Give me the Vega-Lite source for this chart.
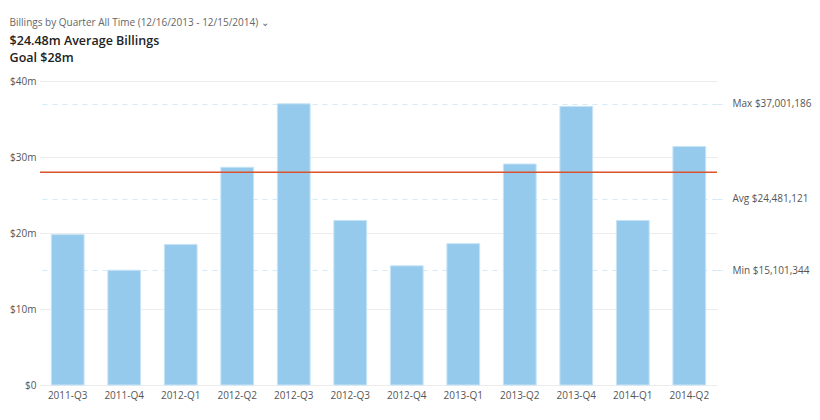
{
  "$schema": "https://vega.github.io/schema/vega-lite/v6.json",
  "width": 820,
  "height": 420,
  "autosize": {"type": "fit", "contains": "padding"},
  "padding": {"left": 9, "right": 8, "top": 17, "bottom": 20},
  "background": "white",
  "config": {"font": "Open Sans", "view": {"stroke": null}},
  "title": {
    "text": "Billings by Quarter   All Time (12/16/2013 - 12/15/2014) ⌄",
    "subtitle": ["$24.48m Average Billings", "Goal $28m"],
    "anchor": "start",
    "frame": "bounds",
    "fontSize": 10,
    "fontWeight": "normal",
    "color": "#666666",
    "subtitleFontSize": 12.5,
    "subtitleFontWeight": 600,
    "subtitleColor": "#222222",
    "subtitlePadding": 7,
    "subtitleLineHeight": 17,
    "offset": 12
  },
  "data": {
    "values": [
      {"slot": "01 2011-Q3", "billings": 19790000},
      {"slot": "02 2011-Q4", "billings": 15101344},
      {"slot": "03 2012-Q1", "billings": 18500000},
      {"slot": "04 2012-Q2", "billings": 28650000},
      {"slot": "05 2012-Q3", "billings": 37001186},
      {"slot": "06 2012-Q3", "billings": 21650000},
      {"slot": "07 2012-Q4", "billings": 15680000},
      {"slot": "08 2013-Q1", "billings": 18600000},
      {"slot": "09 2013-Q2", "billings": 29080000},
      {"slot": "10 2013-Q4", "billings": 36660000},
      {"slot": "11 2014-Q1", "billings": 21650000},
      {"slot": "12 2014-Q2", "billings": 31380000}
    ]
  },
  "layer": [
    {
      "mark": {"type": "bar", "color": "#95caec", "stroke": "#c6e4f7", "strokeWidth": 1},
      "encoding": {
        "x": {
          "field": "slot",
          "type": "ordinal",
          "sort": null,
          "scale": {"paddingInner": 0.42, "paddingOuter": 0.2},
          "axis": {
            "title": null,
            "labelAngle": 0,
            "labelExpr": "substring(datum.label, 3)",
            "ticks": false,
            "domain": false,
            "labelColor": "#555555",
            "labelFontSize": 10,
            "labelPadding": 5
          }
        },
        "y": {
          "field": "billings",
          "type": "quantitative",
          "scale": {"domain": [0, 40000000], "nice": false},
          "axis": {
            "title": null,
            "values": [0, 10000000, 20000000, 30000000, 40000000],
            "labelExpr": "datum.value == 0 ? '$0' : '$' + datum.value / 1000000 + 'm'",
            "gridColor": "#ececec",
            "domain": false,
            "ticks": false,
            "labelColor": "#555555",
            "labelFontSize": 10,
            "labelPadding": 4
          }
        }
      }
    },
    {
      "data": {"values": [{"goal": 28000000}]},
      "mark": {"type": "rule", "color": "#d9532c", "strokeWidth": 1.5},
      "encoding": {
        "y": {
          "field": "goal",
          "type": "quantitative",
          "axis": {
            "orient": "right",
            "title": null,
            "values": [15101344, 24481121, 37001186],
            "labelExpr": "(datum.value > 30000000 ? 'Max $' : datum.value > 20000000 ? 'Avg $' : 'Min $') + format(datum.value, ',')",
            "grid": true,
            "gridDash": [5, 5],
            "gridColor": "#d5e9f7",
            "ticks": true,
            "tickDash": [5, 5],
            "tickSize": 9,
            "tickColor": "#d5e9f7",
            "domain": false,
            "labelColor": "#555555",
            "labelFontSize": 10,
            "labelPadding": 6
          }
        }
      }
    }
  ],
  "resolve": {"axis": {"y": "independent"}}
}
